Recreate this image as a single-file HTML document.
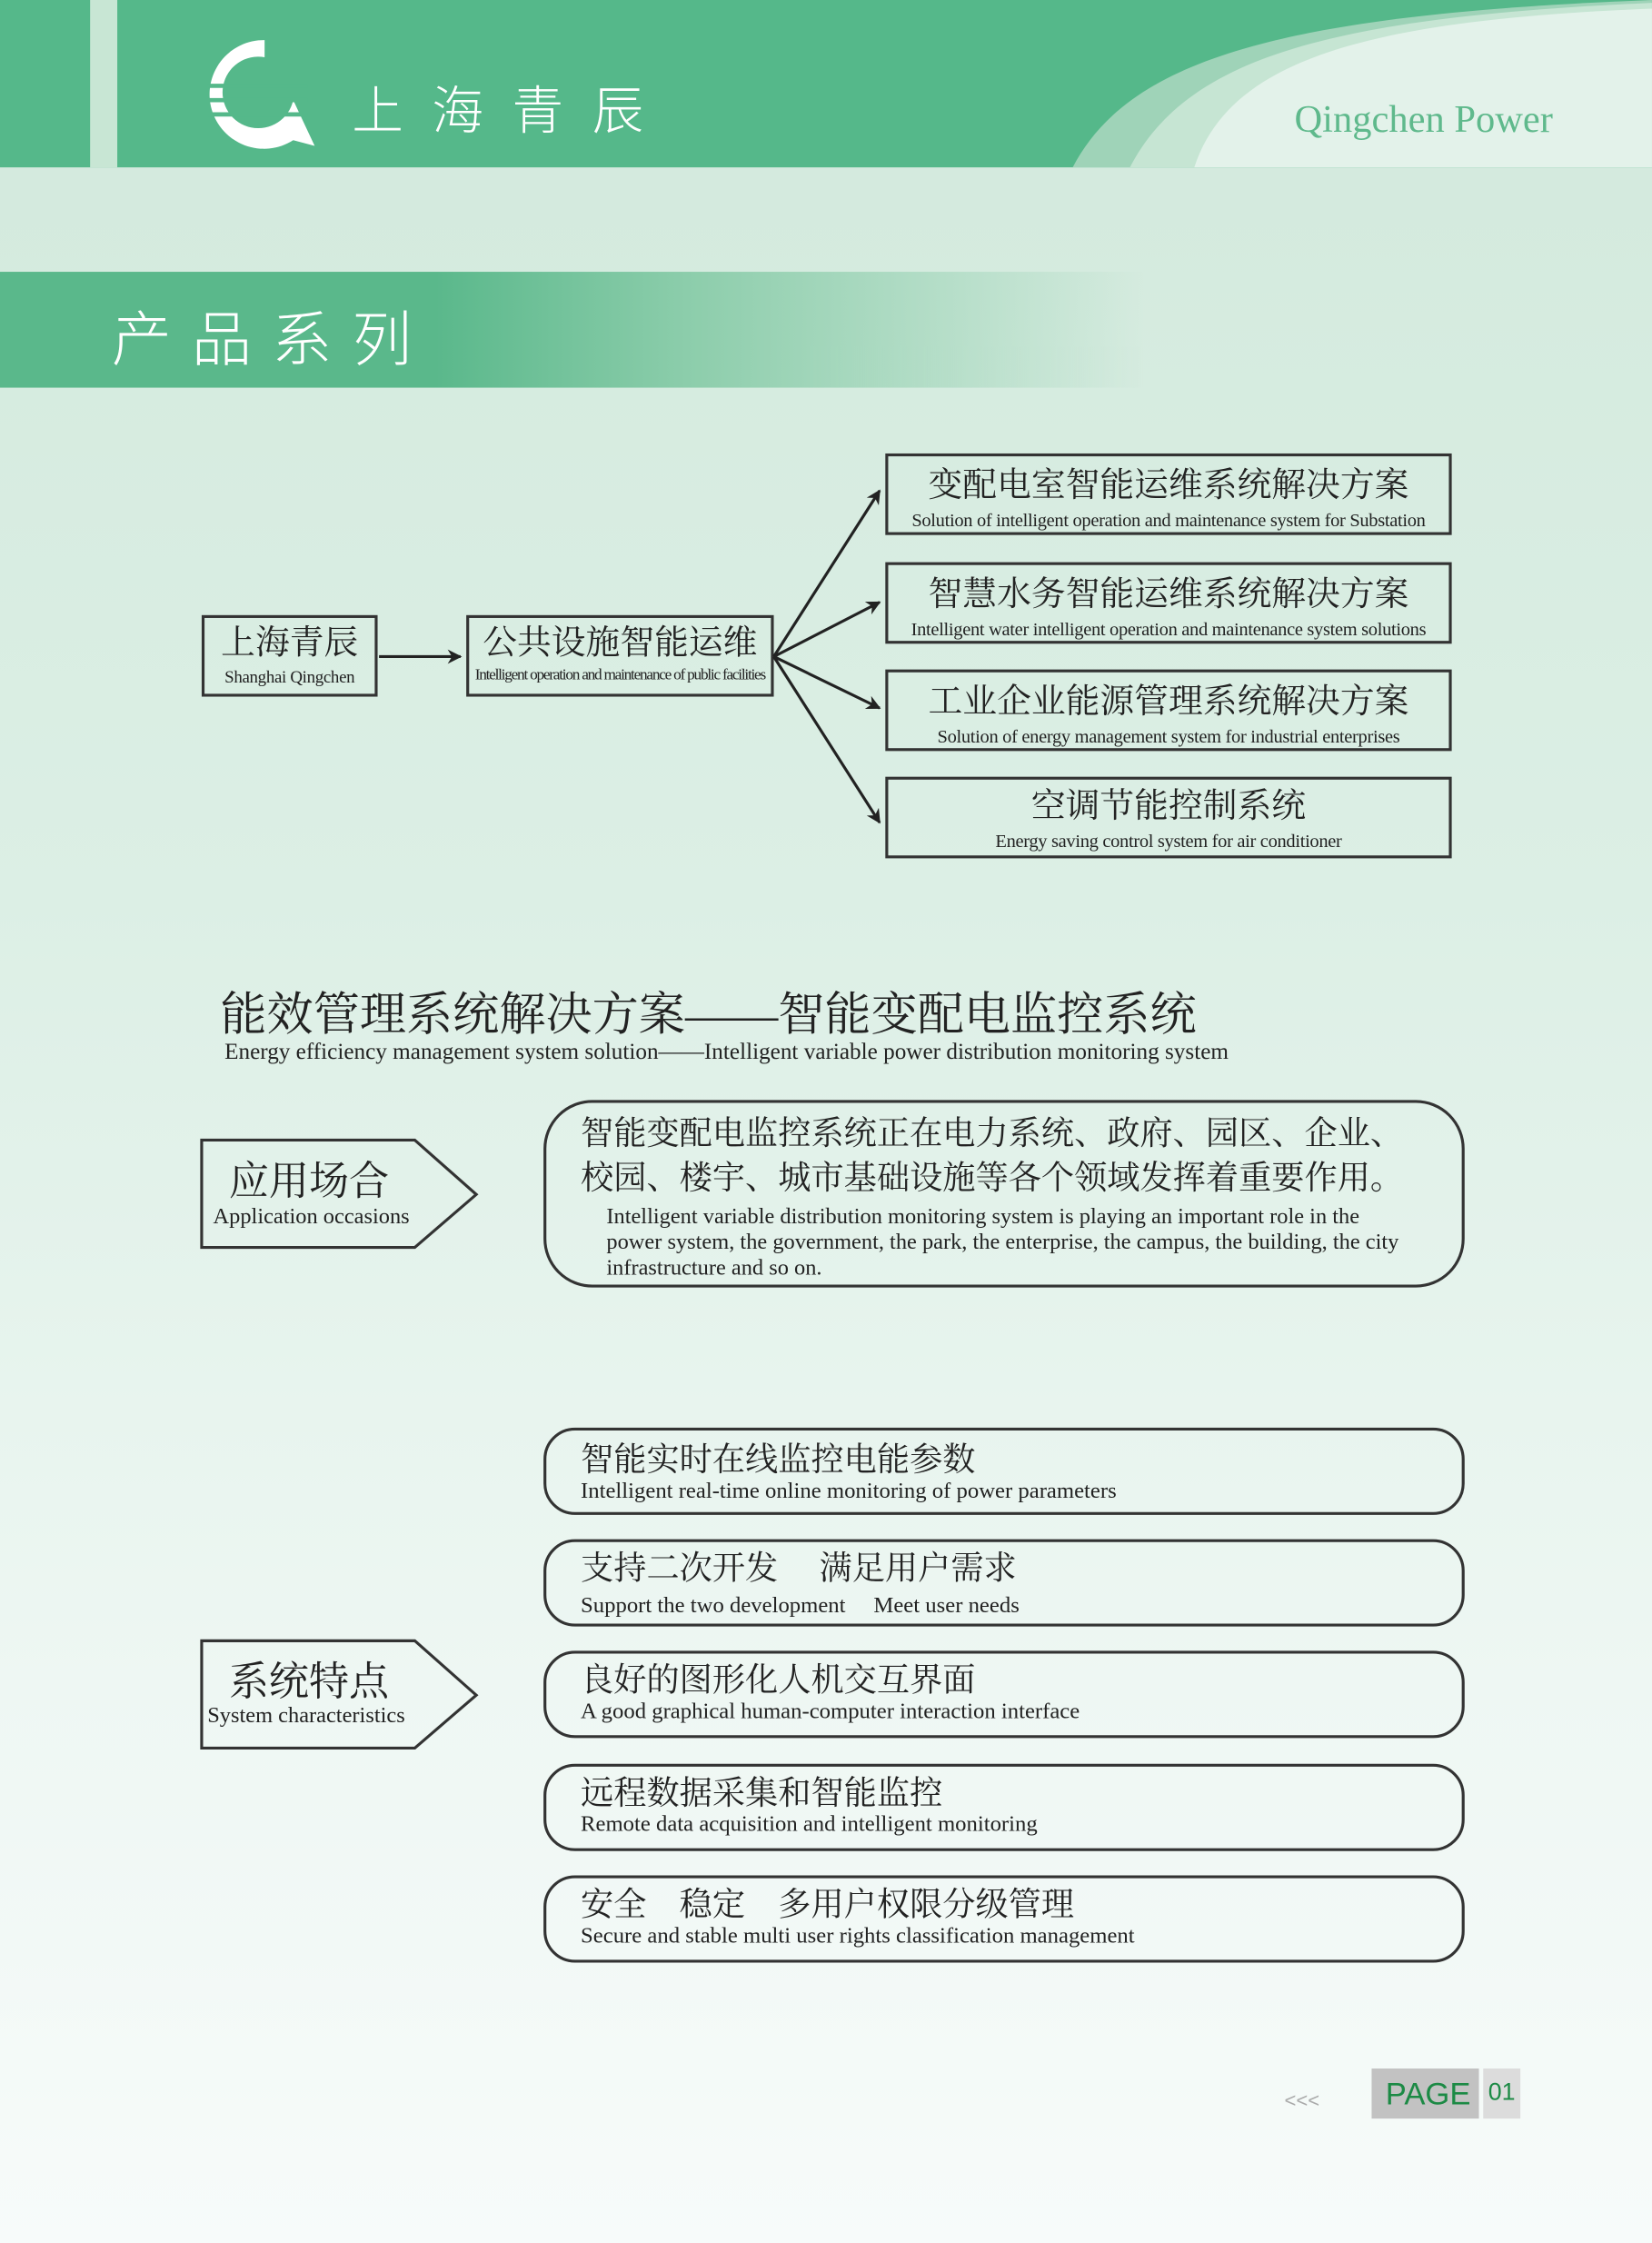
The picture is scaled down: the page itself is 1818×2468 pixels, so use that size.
<!DOCTYPE html>
<html><head><meta charset="utf-8"><style>
*{margin:0;padding:0;box-sizing:border-box}
html,body{width:1818px;height:2468px;overflow:hidden}
body{background:linear-gradient(180deg,#d2e9dc 0%,#dcefe5 40%,#eef7f3 75%,#f7fbfa 100%)}
#w{position:absolute;left:0;top:0;width:1155px;height:1568px;transform:scale(1.5740,1.5740);transform-origin:0 0;font-family:"Liberation Serif","Noto Serif CJK SC",serif;color:#222}
.a{position:absolute}
.box{position:absolute;border:2px solid #333;text-align:center;line-height:1}
.zh{font-size:24px;color:#222}
.en{font-size:13px;color:#222;letter-spacing:-0.2px;white-space:nowrap}
.rb{position:absolute;border:2px solid #333;border-radius:22px;padding:4px 24px}
</style></head><body><div id="w">
<div class="a" style="left:0;top:0;width:1155px;height:117px;background:#55b88a"></div>
<div class="a" style="left:63px;top:0;width:19px;height:117px;background:#c8e6d4"></div>
<svg class="a" style="left:0;top:0" width="1155" height="117">
<path d="M750 117 C790 40 900 10 1155 0 L1155 117 Z" fill="#9fd3b8"/>
<path d="M790 117 C830 40 930 12 1155 2 L1155 117 Z" fill="#c6e5d3"/>
<path d="M835 117 C860 40 960 14 1155 6 L1155 117 Z" fill="#e3f2ea"/>
<g fill="#fff"><path d="M185 28 A38 38 0 1 0 205 98 L220 102 L205 70 A25 25 0 1 1 185 40 Z"/></g>
<g stroke="#55b88a" stroke-width="3"><line x1="145" y1="60" x2="215" y2="60"/><line x1="145" y1="70" x2="215" y2="70"/><line x1="145" y1="80" x2="215" y2="80"/></g>
</svg>
<div class="a" style="left:246px;top:49px;font-size:36px;color:#fff;letter-spacing:20px;font-family:'Noto Sans CJK SC',sans-serif;font-weight:300">上海青辰</div>
<div class="a" style="left:905px;top:68px;font-size:27px;color:#5fb98c">Qingchen Power</div>
<div class="a" style="left:0;top:190px;width:800px;height:81px;background:linear-gradient(90deg,#5ab88b 0%,#5ab88b 38%,#8ccdab 60%,rgba(200,230,214,0) 100%)"></div>
<div class="a" style="left:78px;top:204px;font-size:42px;color:#fff;letter-spacing:14px;font-family:'Noto Sans CJK SC',sans-serif;font-weight:300">产品系列</div>

<div class="box" style="left:141px;top:430px;width:123px;height:57px;padding-top:6px"><div class="zh">上海青辰</div><div class="en" style="margin-top:5px;font-size:12px">Shanghai Qingchen</div></div>
<div class="box" style="left:326px;top:430px;width:215px;height:57px;padding-top:6px"><div class="zh">公共设施智能运维</div><div class="en" style="margin-top:5px;font-size:11px;letter-spacing:-0.8px">Intelligent operation and maintenance of public facilities</div></div>
<div class="box" style="left:619px;top:317px;width:396px;height:57px;padding-top:9px"><div class="zh">变配电室智能运维系统解决方案</div><div class="en" style="margin-top:5px">Solution of intelligent operation and maintenance system for Substation</div></div>
<div class="box" style="left:619px;top:393px;width:396px;height:57px;padding-top:9px"><div class="zh">智慧水务智能运维系统解决方案</div><div class="en" style="margin-top:5px">Intelligent water intelligent operation and maintenance system solutions</div></div>
<div class="box" style="left:619px;top:468px;width:396px;height:57px;padding-top:9px"><div class="zh">工业企业能源管理系统解决方案</div><div class="en" style="margin-top:5px">Solution of energy management system for industrial enterprises</div></div>
<div class="box" style="left:619px;top:543px;width:396px;height:57px;padding-top:7px"><div class="zh">空调节能控制系统</div><div class="en" style="margin-top:5px">Energy saving control system for air conditioner</div></div>
<svg class="a" style="left:0;top:0" width="1155" height="1568">
<defs><marker id="m" markerWidth="10" markerHeight="10" refX="9" refY="5" orient="auto" markerUnits="userSpaceOnUse"><path d="M0 0 L10 5 L0 10 L3 5 Z" fill="#222"/></marker></defs>
<g stroke="#222" stroke-width="2" fill="none" marker-end="url(#m)">
<line x1="265" y1="459" x2="322" y2="459"/>
<line x1="541" y1="459" x2="615" y2="343"/>
<line x1="541" y1="459" x2="615" y2="421"/>
<line x1="541" y1="459" x2="615" y2="495"/>
<line x1="541" y1="459" x2="615" y2="575"/>
</g>
<g stroke="#333" stroke-width="2" fill="none">
<path d="M141 797 H290 L333 835 L290 872 H141 Z"/>
<path d="M141 1147 H290 L333 1185 L290 1222 H141 Z"/>
</g>
</svg>
<div class="a" style="left:154px;top:684px;font-size:32.5px">能效管理系统解决方案——智能变配电监控系统</div>
<div class="a" style="left:157px;top:727px;font-size:16px">Energy efficiency management system solution——Intelligent variable power distribution monitoring system</div>
<div class="a" style="left:160px;top:804px;font-size:28px">应用场合</div>
<div class="a" style="left:149px;top:842px;font-size:15.5px">Application occasions</div>
<div class="a" style="left:160px;top:1154px;font-size:28px">系统特点</div>
<div class="a" style="left:145px;top:1191px;font-size:15.5px">System characteristics</div>

<div class="rb" style="left:380px;top:769px;width:644px;height:131px;border-radius:34px;padding-top:6px"><div style="font-size:23px;line-height:31px">智能变配电监控系统正在电力系统、政府、园区、企业、校园、楼宇、城市基础设施等各个领域发挥着重要作用。</div><div style="font-size:15.5px;line-height:18px;padding-left:18px;padding-right:10px;margin-top:3px">Intelligent variable distribution monitoring system is playing an important role in the power system, the government, the park, the enterprise, the campus, the building, the city infrastructure and so on.</div></div>

<div class="rb" style="left:380px;top:998px;width:644px;height:61px;padding-top:7px"><div style="font-size:23px;line-height:27px">智能实时在线监控电能参数</div><div style="font-size:15.7px">Intelligent real-time online monitoring of power parameters</div></div>
<div class="rb" style="left:380px;top:1076px;width:644px;height:61px;padding-top:5px"><div style="font-size:23px;line-height:27px">支持二次开发　 满足用户需求</div><div style="font-size:15.7px">Support the two development　 Meet user needs</div></div>
<div class="rb" style="left:380px;top:1154px;width:644px;height:61px;padding-top:5px"><div style="font-size:23px;line-height:27px">良好的图形化人机交互界面</div><div style="font-size:15.7px">A good graphical human-computer interaction interface</div></div>
<div class="rb" style="left:380px;top:1233px;width:644px;height:61px;padding-top:5px"><div style="font-size:23px;line-height:27px">远程数据采集和智能监控</div><div style="font-size:15.7px">Remote data acquisition and intelligent monitoring</div></div>
<div class="rb" style="left:380px;top:1311px;width:644px;height:61px;padding-top:5px"><div style="font-size:23px;line-height:27px">安全　稳定　多用户权限分级管理</div><div style="font-size:15.7px">Secure and stable multi user rights classification management</div></div>

<div class="a" style="left:898px;top:1460px;font-size:14px;color:#aaa;font-family:'Liberation Sans',sans-serif">&lt;&lt;&lt;</div>
<div class="a" style="left:959px;top:1446px;width:75px;height:35px;background:#c2c2c2;color:#1c8a45;font-family:'Liberation Sans',sans-serif;font-size:22px;text-align:center;line-height:35px;padding-left:4px">PAGE</div>
<div class="a" style="left:1037px;top:1446px;width:26px;height:35px;background:#dcdcdc;color:#1c8a45;font-family:'Liberation Sans',sans-serif;font-size:17px;text-align:center;line-height:33px">01</div>
</div></body></html>
